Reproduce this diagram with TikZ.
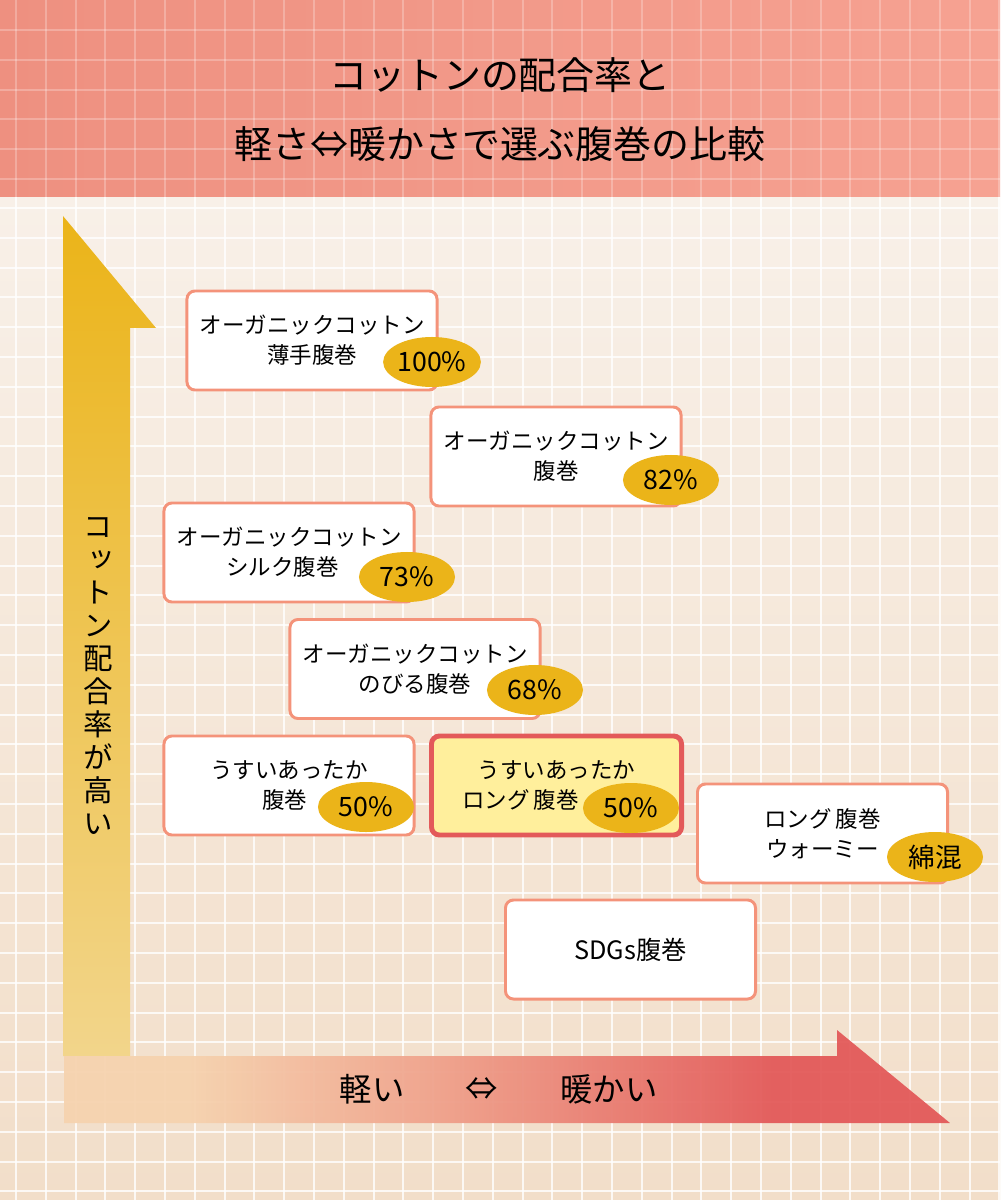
\documentclass[tikz,border=0pt]{standalone}
\usepackage{fontspec}
\setmainfont{Noto Sans CJK JP}
\newfontfamily\tatefont[RawFeature=+vert]{Noto Sans CJK JP}
\usetikzlibrary{shapes.geometric,positioning}
\definecolor{coral}{HTML}{F4937A}
\definecolor{gold}{HTML}{EBB419}
\definecolor{pick}{HTML}{E35A5A}
\definecolor{lemon}{HTML}{FFEF9C}
\definecolor{peach}{HTML}{F6D3AF}
\definecolor{blush}{HTML}{EE9A86}
\definecolor{headl}{HTML}{EE9080}
\definecolor{headr}{HTML}{F6A292}
\definecolor{paper}{HTML}{F8F0E8}
\definecolor{sand}{HTML}{F2DEC9}
\pgfdeclarehorizontalshading{axisfade}{100bp}{color(0bp)=(peach); color(32bp)=(peach); color(48bp)=(blush); color(65bp)=(pick); color(100bp)=(pick)}
\tikzset{itembox/.style={draw=coral,fill=white,line width=2.1pt,rounded corners=5.7pt,minimum width=6.25cm,minimum height=2.475cm,align=center,font=\fontsize{16}{21.3}\selectfont}, pickbox/.style={itembox,draw=pick,fill=lemon,line width=3.5pt}, ratebadge/.style={ellipse,fill=gold,inner sep=0pt,minimum width=2.4cm,minimum height=1.25cm,font=\fontsize{19}{19}\selectfont}, gridline/.style={white,line width=1.4pt}, titletext/.style={font=\fontsize{27}{27}\selectfont}, axisnote/.style={font=\fontsize{23}{23}\selectfont}}

\begin{document}
\begin{tikzpicture}[x=0.025cm,y=-0.025cm]
\useasboundingbox (0,0) rectangle (1000,1200);
\shade[top color=paper,bottom color=sand] (0,197) rectangle (1000,1200);
\shade[left color=headl,right color=headr] (0,0) rectangle (1000,197);
\foreach \k in {0,...,33} {
  \draw[gridline,opacity=.8] (0,{208+29.8*\k}) -- (1000,{208+29.8*\k});
  \draw[gridline,opacity=.8] ({16+29.8*\k},197) -- ({16+29.8*\k},1200);
  \draw[gridline,opacity=.25] ({16+29.8*\k},0) -- ({16+29.8*\k},197);
}
\foreach \k in {0,...,5} \draw[gridline,opacity=.25] (0,{30+29.8*\k}) -- (1000,{30+29.8*\k});
\shade[top color=gold,bottom color=gold!45!paper] (63,216) -- (156,328) -- (130,328) -- (130,1056) -- (63,1056) -- cycle;
\shade[shading=axisfade,opacity=.95] (64,1056) -- (837,1056) -- (837,1030) -- (950,1123) -- (64,1123) -- cycle;
\node[titletext] (t1) at (500,75) {コットンの配合率と};
\node[titletext] (t2) at (500,144) {軽さ⇔暖かさで選ぶ腹巻の比較};
\node[align=center,font={\tatefont\fontsize{21}{23.5}\selectfont}] (ylab) at (98,676) {コ\\ッ\\ト\\ン\\配\\合\\率\\が\\高\\い};
\node[axisnote] (a1) at (372,1089) {軽い};
\node[axisnote] (a2) at (482,1089) {⇔};
\node[axisnote] (a3) at (609,1089) {暖かい};
\node[itembox] (b1) at (312,340.5) {オーガニックコットン\\薄手腹巻};
\node[itembox] (b2) at (556,456.5) {オーガニックコットン\\腹巻};
\node[itembox] (b3) at (289,552.5) {オーガニックコットン\\シルク腹巻\hspace*{.6em}};
\node[itembox] (b4) at (415,669) {オーガニックコットン\\のびる腹巻};
\node[itembox] (b5) at (289,785.5) {うすいあったか\\腹巻\hspace*{.4em}};
\node[pickbox] (b6) at (556.5,785.5) {うすいあったか\\ロング\,腹巻\hspace*{3.2em}};
\node[itembox] (b7) at (822.5,833.5) {ロング\,腹巻\\ウォーミー};
\node[itembox] (b8) at (630.5,949.5) {\fontsize{18}{21.3}\selectfont SDGs腹巻};
\node[ratebadge] (p1) at (432,362) {100\%};
\node[ratebadge] (p2) at (671,480) {82\%};
\node[ratebadge] (p3) at (407,577) {73\%};
\node[ratebadge] (p4) at (535,690) {68\%};
\node[ratebadge] (p5) at (366,807) {50\%};
\node[ratebadge] (p6) at (631,808) {50\%};
\node[ratebadge] (p7) at (935,857) {綿混};
\end{tikzpicture}
\end{document}
